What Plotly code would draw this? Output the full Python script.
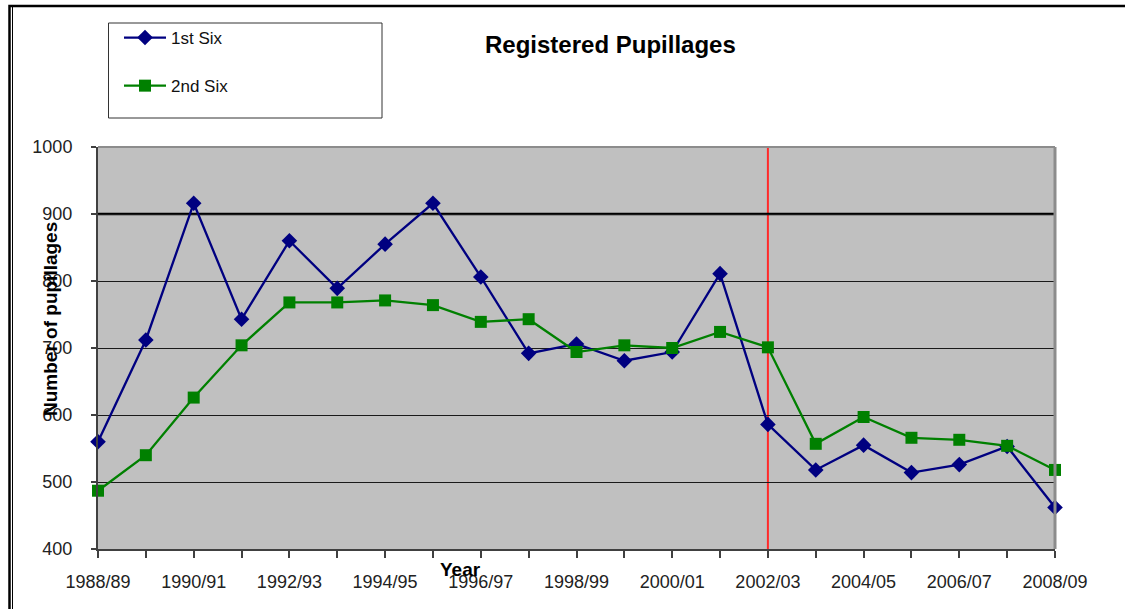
import plotly.graph_objects as go

years = ["1988/89", "1989/90", "1990/91", "1991/92", "1992/93", "1993/94", "1994/95",
         "1995/96", "1996/97", "1997/98", "1998/99", "1999/00", "2000/01", "2001/02",
         "2002/03", "2003/04", "2004/05", "2005/06", "2006/07", "2007/08", "2008/09"]
first_six = [560, 712, 916, 743, 860, 789, 855, 916, 806, 692, 706, 681, 694, 811,
             586, 518, 555, 514, 526, 553, 462]
second_six = [487, 540, 626, 704, 768, 768, 771, 764, 739, 743, 694, 704, 700, 724,
              701, 557, 597, 566, 563, 554, 518]
y_ticks = [400, 500, 600, 700, 800, 900, 1000]
marker_year = "2002/03"
emph_grid = 900

W, H = 1125, 609
PL, PR, PT, PB = 98, 1055, 147, 549


def xp(px):
    return (px - PL) / (PR - PL)


def yp(py):
    return (PB - py) / (PB - PT)


idx = list(range(len(years)))
FONT = "Liberation Sans, Arial, sans-serif"

fig = go.Figure()
fig.add_trace(go.Scatter(
    x=idx, y=first_six, name="1st Six", mode="lines+markers",
    line=dict(color="#000080", width=2.3),
    marker=dict(symbol="diamond", size=12, color="#000080"),
    cliponaxis=False, legendgroup="a"))
fig.add_trace(go.Scatter(
    x=idx, y=second_six, name="2nd Six", mode="lines+markers",
    line=dict(color="#008000", width=2.3),
    marker=dict(symbol="square", size=12, color="#008000"),
    cliponaxis=False, legendgroup="b"))

shapes = []
# red marker line
mi = years.index(marker_year)
shapes.append(dict(type="line", xref="x", yref="paper", x0=mi, x1=mi, y0=0, y1=1,
                   line=dict(color="#ff2a2a", width=2), layer="between"))
# emphasised gridline
shapes.append(dict(type="line", xref="paper", yref="y", x0=0, x1=1, y0=emph_grid, y1=emph_grid,
                   line=dict(color="#000000", width=2.5), layer="between"))
# plot top/right border
shapes.append(dict(type="line", xref="paper", yref="paper", x0=0, x1=1, y0=1, y1=1,
                   line=dict(color="#8c8c8c", width=2)))
shapes.append(dict(type="line", xref="paper", yref="paper", x0=1, x1=1, y0=0, y1=1,
                   line=dict(color="#8c8c8c", width=3)))
# outer frame: rectangle whose right/bottom edges fall outside the canvas
shapes.append(dict(type="rect", xref="paper", yref="paper", x0=xp(9.5), x1=xp(1400),
                   y0=yp(800), y1=yp(6), line=dict(color="#000", width=2.5),
                   fillcolor="rgba(0,0,0,0)", layer="below"))
shapes.append(dict(type="line", xref="paper", yref="paper", x0=xp(12.5), x1=xp(12.5),
                   y0=yp(7), y1=yp(620), line=dict(color="#000", width=1)))
# legend box
shapes.append(dict(type="rect", xref="paper", yref="paper", x0=xp(108.5), x1=xp(382),
                   y0=yp(118), y1=yp(23), line=dict(color="#333", width=1), fillcolor="white",
                   layer="below"))

annotations = [
    dict(text="<b>Registered Pupillages</b>", xref="paper", yref="paper",
         x=xp(610), y=yp(45), xanchor="center", yanchor="middle", showarrow=False,
         font=dict(family=FONT, size=24, color="#000")),
    dict(text="<b>Number of pupillages</b>", xref="paper", yref="paper",
         x=xp(50), y=yp(319), xanchor="center", yanchor="middle", showarrow=False,
         textangle=-90, font=dict(family=FONT, size=19, color="#000")),
    dict(text="<b>Year</b>", xref="paper", yref="paper",
         x=xp(460), y=yp(569), xanchor="center", yanchor="middle", showarrow=False,
         font=dict(family=FONT, size=19, color="#000")),
]

fig.update_layout(
    width=W, height=H,
    margin=dict(l=PL, r=W - PR, t=PT, b=H - PB, pad=0),
    paper_bgcolor="white", plot_bgcolor="#c0c0c0",
    font=dict(family=FONT, size=18, color="#222"),
    showlegend=True,
    legend=dict(x=xp(119), y=yp(20), xanchor="left", yanchor="top",
                bgcolor="rgba(0,0,0,0)", borderwidth=0,
                font=dict(family=FONT, size=17, color="#111"),
                tracegroupgap=23, itemwidth=42, traceorder="grouped"),
    shapes=shapes, annotations=annotations,
    xaxis=dict(range=[0, len(years) - 1], tickmode="array", tickvals=idx[::2],
               ticktext=years[::2], showgrid=False, zeroline=False,
               showline=True, linecolor="#404040", linewidth=2,
               ticks="outside", ticklen=7, tickwidth=1.5, tickcolor="#404040",
               ticklabelstandoff=8,
               minor=dict(tickvals=idx, ticks="outside", ticklen=7, tickwidth=1.5,
                          tickcolor="#404040", showgrid=False),
               tickfont=dict(family=FONT, size=18, color="#222")),
    yaxis=dict(range=[400, 1000], tickmode="array", tickvals=y_ticks,
               showgrid=True, gridcolor="#1a1a1a", gridwidth=1, zeroline=False,
               showline=True, linecolor="#404040", linewidth=2,
               ticks="outside", ticklen=5, tickwidth=1.5, tickcolor="#404040",
               ticklabelstandoff=15,
               tickfont=dict(family=FONT, size=18, color="#222")),
)

fig.write_html(
    "out.html",
    post_script=("document.documentElement.style.overflow='hidden';"
                 "document.body.style.overflow='hidden';"
                 "document.body.style.margin='0';"),
)
